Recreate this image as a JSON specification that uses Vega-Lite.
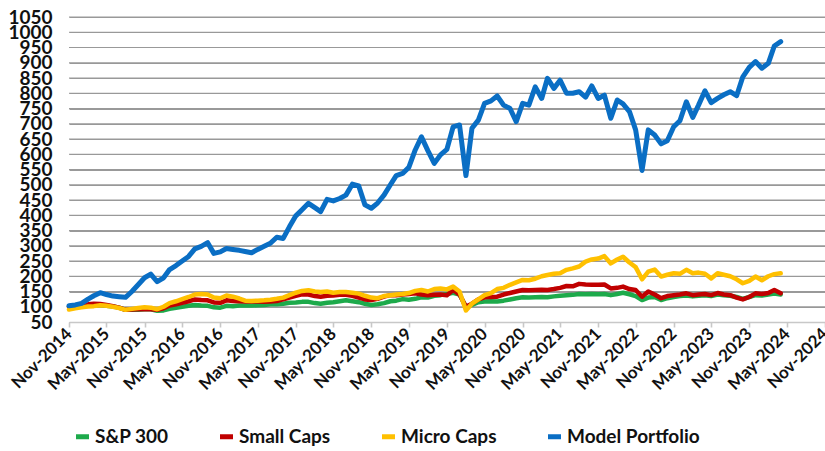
{
"$schema": "https://vega.github.io/schema/vega-lite/v6.json",
"width": 756, "height": 305,
"autosize": {"type": "none"},
"padding": {"left": 69, "top": 17, "right": 0, "bottom": 129},
"background": "white",
"config": {"view": {"stroke": null}, "font": "Lato",
  "axisY": {"title": null, "format": "d", "tickCount": 21, "grid": true, "gridColor": "#999999", "gridWidth": 1, "domain": false, "ticks": false, "labelOverlap": false,
    "labelFontSize": 19, "labelFontWeight": "bold", "labelColor": "#111111", "labelPadding": 17}},
"layer": [
 {"data": {"values": [{"g":100},{"g":150},{"g":200},{"g":250},{"g":300},{"g":350},{"g":400},{"g":450},{"g":500},{"g":550},{"g":600},{"g":650},{"g":700},{"g":750},{"g":800},{"g":850},{"g":900},{"g":950},{"g":1000},{"g":1050}]},
  "mark": {"type": "rule", "stroke": "#999999", "strokeWidth": 1, "opacity": 1},
  "encoding": {"y": {"field": "g", "type": "quantitative", "title": null, "scale": {"domain": [50, 1050], "nice": false, "zero": false}}}},
 {"data": {"values": [
{"date":"2014-11-01","sp":100,"small":100,"micro":91,"model":103},
{"date":"2014-12-01","sp":102,"small":104,"micro":95,"model":106},
{"date":"2015-01-01","sp":104,"small":107,"micro":98,"model":111},
{"date":"2015-02-01","sp":105,"small":108,"micro":101,"model":125},
{"date":"2015-03-01","sp":106,"small":110,"micro":102,"model":136},
{"date":"2015-04-01","sp":106,"small":109,"micro":105,"model":146},
{"date":"2015-05-01","sp":103,"small":106,"micro":103,"model":140},
{"date":"2015-06-01","sp":101,"small":102,"micro":100,"model":135},
{"date":"2015-07-01","sp":97,"small":97,"micro":96,"model":133},
{"date":"2015-08-01","sp":90,"small":90,"micro":90,"model":131},
{"date":"2015-09-01","sp":90,"small":91,"micro":93,"model":150},
{"date":"2015-10-01","sp":90,"small":92,"micro":96,"model":172},
{"date":"2015-11-01","sp":92,"small":93,"micro":98,"model":195},
{"date":"2015-12-01","sp":92,"small":92,"micro":97,"model":207},
{"date":"2016-01-01","sp":87,"small":90,"micro":92,"model":182},
{"date":"2016-02-01","sp":88,"small":95,"micro":100,"model":195},
{"date":"2016-03-01","sp":93,"small":104,"micro":112,"model":222},
{"date":"2016-04-01","sp":97,"small":108,"micro":118,"model":235},
{"date":"2016-05-01","sp":100,"small":113,"micro":125,"model":250},
{"date":"2016-06-01","sp":103,"small":118,"micro":132,"model":265},
{"date":"2016-07-01","sp":106,"small":124,"micro":140,"model":290},
{"date":"2016-08-01","sp":104,"small":122,"micro":142,"model":298},
{"date":"2016-09-01","sp":103,"small":121,"micro":140,"model":310},
{"date":"2016-10-01","sp":98,"small":114,"micro":130,"model":275},
{"date":"2016-11-01","sp":97,"small":113,"micro":128,"model":280},
{"date":"2016-12-01","sp":103,"small":121,"micro":137,"model":291},
{"date":"2017-01-01","sp":102,"small":119,"micro":133,"model":288},
{"date":"2017-02-01","sp":104,"small":118,"micro":127,"model":285},
{"date":"2017-03-01","sp":104,"small":117,"micro":120,"model":281},
{"date":"2017-04-01","sp":104,"small":118,"micro":119,"model":277},
{"date":"2017-05-01","sp":105,"small":117,"micro":120,"model":288},
{"date":"2017-06-01","sp":106,"small":116,"micro":121,"model":298},
{"date":"2017-07-01","sp":108,"small":117,"micro":123,"model":308},
{"date":"2017-08-01","sp":108,"small":119,"micro":126,"model":328},
{"date":"2017-09-01","sp":110,"small":124,"micro":130,"model":324},
{"date":"2017-10-01","sp":113,"small":130,"micro":138,"model":362},
{"date":"2017-11-01","sp":114,"small":136,"micro":146,"model":398},
{"date":"2017-12-01","sp":116,"small":141,"micro":152,"model":418},
{"date":"2018-01-01","sp":116,"small":140,"micro":154,"model":439},
{"date":"2018-02-01","sp":112,"small":135,"micro":150,"model":425},
{"date":"2018-03-01","sp":110,"small":133,"micro":148,"model":412},
{"date":"2018-04-01","sp":113,"small":136,"micro":150,"model":452},
{"date":"2018-05-01","sp":115,"small":137,"micro":146,"model":447},
{"date":"2018-06-01","sp":118,"small":139,"micro":148,"model":455},
{"date":"2018-07-01","sp":121,"small":139,"micro":148,"model":466},
{"date":"2018-08-01","sp":118,"small":136,"micro":146,"model":502},
{"date":"2018-09-01","sp":115,"small":130,"micro":143,"model":496},
{"date":"2018-10-01","sp":110,"small":124,"micro":136,"model":434},
{"date":"2018-11-01","sp":106,"small":122,"micro":130,"model":423},
{"date":"2018-12-01","sp":108,"small":126,"micro":128,"model":440},
{"date":"2019-01-01","sp":112,"small":133,"micro":135,"model":466},
{"date":"2019-02-01","sp":118,"small":138,"micro":138,"model":500},
{"date":"2019-03-01","sp":120,"small":138,"micro":140,"model":530},
{"date":"2019-04-01","sp":125,"small":140,"micro":142,"model":537},
{"date":"2019-05-01","sp":123,"small":142,"micro":145,"model":557},
{"date":"2019-06-01","sp":126,"small":144,"micro":152,"model":614},
{"date":"2019-07-01","sp":131,"small":140,"micro":155,"model":657},
{"date":"2019-08-01","sp":130,"small":138,"micro":150,"model":612},
{"date":"2019-09-01","sp":136,"small":139,"micro":158,"model":570},
{"date":"2019-10-01","sp":138,"small":140,"micro":160,"model":598},
{"date":"2019-11-01","sp":142,"small":138,"micro":157,"model":616},
{"date":"2019-12-01","sp":146,"small":155,"micro":166,"model":690},
{"date":"2020-01-01","sp":140,"small":140,"micro":150,"model":696},
{"date":"2020-02-01","sp":100,"small":100,"micro":88,"model":530},
{"date":"2020-03-01","sp":106,"small":110,"micro":110,"model":685},
{"date":"2020-04-01","sp":115,"small":124,"micro":124,"model":712},
{"date":"2020-05-01","sp":117,"small":131,"micro":138,"model":767},
{"date":"2020-06-01","sp":118,"small":132,"micro":145,"model":775},
{"date":"2020-07-01","sp":117,"small":133,"micro":158,"model":791},
{"date":"2020-08-01","sp":120,"small":140,"micro":162,"model":761},
{"date":"2020-09-01","sp":124,"small":145,"micro":172,"model":750},
{"date":"2020-10-01","sp":128,"small":150,"micro":180,"model":707},
{"date":"2020-11-01","sp":131,"small":155,"micro":188,"model":767},
{"date":"2020-12-01","sp":130,"small":154,"micro":187,"model":761},
{"date":"2021-01-01","sp":131,"small":155,"micro":192,"model":821},
{"date":"2021-02-01","sp":132,"small":156,"micro":200,"model":783},
{"date":"2021-03-01","sp":131,"small":155,"micro":204,"model":849},
{"date":"2021-04-01","sp":134,"small":158,"micro":208,"model":816},
{"date":"2021-05-01","sp":136,"small":162,"micro":210,"model":843},
{"date":"2021-06-01","sp":138,"small":168,"micro":221,"model":800},
{"date":"2021-07-01","sp":139,"small":167,"micro":226,"model":800},
{"date":"2021-08-01","sp":142,"small":175,"micro":232,"model":805},
{"date":"2021-09-01","sp":141,"small":173,"micro":248,"model":787},
{"date":"2021-10-01","sp":142,"small":172,"micro":255,"model":824},
{"date":"2021-11-01","sp":141,"small":172,"micro":258,"model":783},
{"date":"2021-12-01","sp":142,"small":173,"micro":266,"model":794},
{"date":"2022-01-01","sp":138,"small":160,"micro":242,"model":718},
{"date":"2022-02-01","sp":142,"small":162,"micro":255,"model":778},
{"date":"2022-03-01","sp":146,"small":166,"micro":264,"model":765},
{"date":"2022-04-01","sp":141,"small":158,"micro":245,"model":740},
{"date":"2022-05-01","sp":135,"small":155,"micro":230,"model":680},
{"date":"2022-06-01","sp":122,"small":133,"micro":190,"model":547},
{"date":"2022-07-01","sp":130,"small":150,"micro":215,"model":680},
{"date":"2022-08-01","sp":132,"small":140,"micro":222,"model":663},
{"date":"2022-09-01","sp":122,"small":128,"micro":199,"model":634},
{"date":"2022-10-01","sp":128,"small":135,"micro":205,"model":644},
{"date":"2022-11-01","sp":132,"small":138,"micro":210,"model":690},
{"date":"2022-12-01","sp":135,"small":140,"micro":208,"model":710},
{"date":"2023-01-01","sp":137,"small":144,"micro":221,"model":772},
{"date":"2023-02-01","sp":134,"small":138,"micro":210,"model":721},
{"date":"2023-03-01","sp":136,"small":140,"micro":212,"model":761},
{"date":"2023-04-01","sp":138,"small":142,"micro":208,"model":808},
{"date":"2023-05-01","sp":135,"small":138,"micro":193,"model":769},
{"date":"2023-06-01","sp":140,"small":145,"micro":210,"model":783},
{"date":"2023-07-01","sp":138,"small":140,"micro":205,"model":795},
{"date":"2023-08-01","sp":136,"small":138,"micro":200,"model":805},
{"date":"2023-09-01","sp":132,"small":130,"micro":190,"model":792},
{"date":"2023-10-01","sp":126,"small":124,"micro":177,"model":854},
{"date":"2023-11-01","sp":132,"small":132,"micro":185,"model":885},
{"date":"2023-12-01","sp":138,"small":144,"micro":199,"model":904},
{"date":"2024-01-01","sp":137,"small":142,"micro":187,"model":882},
{"date":"2024-02-01","sp":140,"small":145,"micro":200,"model":898},
{"date":"2024-03-01","sp":143,"small":155,"micro":207,"model":955},
{"date":"2024-04-01","sp":140,"small":144,"micro":210,"model":969}
 ]},
 "encoding": {
  "x": {"field": "date", "type": "temporal",
    "scale": {"type": "utc", "domain": [{"year": 2014, "month": 11, "date": 1, "utc": true}, {"year": 2024, "month": 11, "date": 1, "utc": true}]},
    "axis": {"title": null, "format": "%b-%Y", "grid": false,
      "values": [
        {"year": 2014, "month": 11, "date": 1, "utc": true},
        {"year": 2015, "month": 5, "date": 1, "utc": true},
        {"year": 2015, "month": 11, "date": 1, "utc": true},
        {"year": 2016, "month": 5, "date": 1, "utc": true},
        {"year": 2016, "month": 11, "date": 1, "utc": true},
        {"year": 2017, "month": 5, "date": 1, "utc": true},
        {"year": 2017, "month": 11, "date": 1, "utc": true},
        {"year": 2018, "month": 5, "date": 1, "utc": true},
        {"year": 2018, "month": 11, "date": 1, "utc": true},
        {"year": 2019, "month": 5, "date": 1, "utc": true},
        {"year": 2019, "month": 11, "date": 1, "utc": true},
        {"year": 2020, "month": 5, "date": 1, "utc": true},
        {"year": 2020, "month": 11, "date": 1, "utc": true},
        {"year": 2021, "month": 5, "date": 1, "utc": true},
        {"year": 2021, "month": 11, "date": 1, "utc": true},
        {"year": 2022, "month": 5, "date": 1, "utc": true},
        {"year": 2022, "month": 11, "date": 1, "utc": true},
        {"year": 2023, "month": 5, "date": 1, "utc": true},
        {"year": 2023, "month": 11, "date": 1, "utc": true},
        {"year": 2024, "month": 5, "date": 1, "utc": true},
        {"year": 2024, "month": 11, "date": 1, "utc": true}
      ],
      "domainColor": "#c8c8c8", "domainWidth": 1.6, "tickColor": "#c8c8c8", "tickSize": 5, "tickWidth": 1.6,
      "labelAngle": -45, "labelAlign": "right", "labelBaseline": "middle", "labelPadding": 4,
      "labelFontSize": 17, "labelFontWeight": "bold", "labelColor": "#111111",
      "labelOverlap": false, "labelFlush": false, "labelBound": false}
  },
  "color": {"datum": "S&P 300", "type": "nominal",
    "scale": {"domain": ["S&P 300", "Small Caps", "Micro Caps", "Model Portfolio"], "range": ["#1DAA4B", "#C00000", "#FFC000", "#0A6EC4"]},
    "legend": {"title": null, "orient": "none", "legendX": 4, "legendY": 410, "direction": "horizontal",
      "symbolType": "stroke", "symbolStrokeWidth": 5, "symbolSize": 170, "labelFontSize": 19, "labelFontWeight": "bold",
      "labelColor": "#111111", "columnPadding": 40, "labelOffset": 3, "padding": 0}}
 },
 "layer": [
  {"mark": {"type": "line", "strokeWidth": 4.5, "strokeJoin": "round", "strokeCap": "round"},
   "encoding": {"y": {"field": "sp", "type": "quantitative", "title": null}, "color": {"datum": "S&P 300"}}},
  {"mark": {"type": "line", "strokeWidth": 4.5, "strokeJoin": "round", "strokeCap": "round"},
   "encoding": {"y": {"field": "small", "type": "quantitative", "title": null}, "color": {"datum": "Small Caps"}}},
  {"mark": {"type": "line", "strokeWidth": 4.5, "strokeJoin": "round", "strokeCap": "round"},
   "encoding": {"y": {"field": "micro", "type": "quantitative", "title": null}, "color": {"datum": "Micro Caps"}}},
  {"mark": {"type": "line", "strokeWidth": 5, "strokeJoin": "round", "strokeCap": "round"},
   "encoding": {"y": {"field": "model", "type": "quantitative", "title": null}, "color": {"datum": "Model Portfolio"}}}
 ]}
]
}
